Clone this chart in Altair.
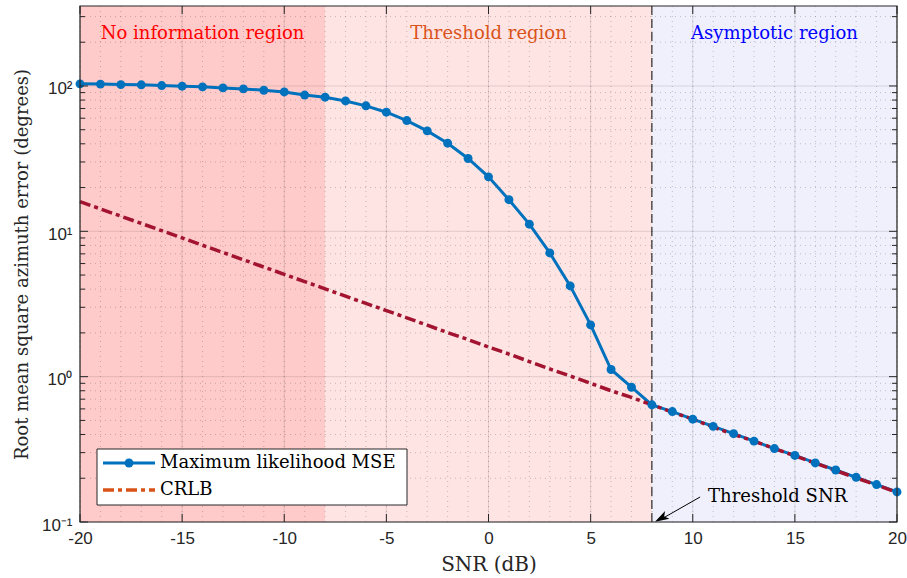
import altair as alt
import pandas as pd

# ---------------- data ----------------
snr = [-20, -19, -18, -17, -16, -15, -14, -13, -12, -11, -10, -9, -8, -7, -6, -5, -4, -3, -2, -1,
       0, 1, 2, 3, 4, 5, 6, 7, 8, 9, 10, 11, 12, 13, 14, 15, 16, 17, 18, 19, 20]
mle = [103.4, 103.0, 102.2, 101.8, 100.6, 99.7, 98.6, 97.0, 95.5, 93.5, 91.0, 86.6, 83.7, 78.9, 73.0,
       66.0, 57.8, 49.1, 40.4, 31.7, 23.7, 16.5, 11.2, 7.1, 4.21, 2.27, 1.12, 0.846, 0.64, 0.575,
       0.51, 0.455, 0.405, 0.36, 0.32, 0.287, 0.255, 0.228, 0.203, 0.181, 0.161]
crlb = [16.0, 14.26, 12.71, 11.33, 10.10, 9.0, 8.02, 7.15, 6.37, 5.68, 5.06, 4.51, 4.02, 3.58, 3.19,
        2.85, 2.54, 2.26, 2.01, 1.80, 1.60, 1.43, 1.27, 1.13, 1.01, 0.90, 0.80, 0.72, 0.64, 0.57,
        0.51, 0.45, 0.40, 0.36, 0.32, 0.285, 0.254, 0.226, 0.201, 0.180, 0.16]

x_major = [-20, -15, -10, -5, 0, 5, 10, 15, 20]
x_minor = snr
y_major = [0.1, 1, 10, 100]
y_minor = [0.2, 0.3, 0.4, 0.5, 0.6, 0.7, 0.8, 0.9, 2, 3, 4, 5, 6, 7, 8, 9,
           20, 30, 40, 50, 60, 70, 80, 90, 200, 300]

region_start = [-20, -8, 8]
region_end = [-8, 8, 20]
region_fill = ["#FFCACA", "#FFE4E4", "#F0F0FC"]
region_names = ["No information region", "Threshold region", "Asymptotic region"]
region_label_x = [-14, 0, 14]
region_label_y = [228, 228, 228]
region_label_color = ["#FF0000", "#D95319", "#0000FF"]

threshold_snr = [8]
annot_text = ["Threshold SNR"]
annot_text_x = [10.75]
annot_text_y = [0.149]
arrow_x0, arrow_y0, arrow_x1, arrow_y1 = [10.36], [0.1486], [8.4], [0.1035]
arrow_tip_x, arrow_tip_y = [8.152], [0.1005]

legend_names = ["Maximum likelihood MSE", "CRLB"]

# ---------------- layout ----------------
W, H = 817, 516
SERIF = "DejaVu Serif"
SANS = "Liberation Sans"
AX = "#262626"

xs = alt.Scale(domain=[-20, 20], nice=False, zero=False)
ys = alt.Scale(type="log", domain=[0.1, 355], nice=False)

x_axis = alt.Axis(values=x_major, labelExpr="'' + datum.value", domain=False, ticks=False, grid=False,
                  labelFont=SANS, labelFontSize=17, labelColor=AX, labelPadding=8,
                  labelFlush=False, labelOverlap=False,
                  title="SNR (dB)", titleFont=SERIF, titleFontSize=20, titleFontWeight="normal",
                  titleColor=AX, titlePadding=8)
y_axis = alt.Axis(values=y_major,
                  labelExpr="datum.value == 100 ? '10²' : datum.value == 10 ? '10¹' : datum.value == 1 ? '10⁰' : '10⁻¹'",
                  domain=False, ticks=False, grid=False,
                  labelFont=SANS, labelFontSize=17, labelColor=AX, labelPadding=8, labelOffset=3,
                  labelFlush=False, labelOverlap=False,
                  title="Root mean square azimuth error (degrees)", titleFont=SERIF, titleFontSize=18,
                  titleFontWeight="normal", titleColor=AX, titlePadding=10)


def X(f):
    return alt.X(f, scale=xs, axis=x_axis)


def Y(f):
    return alt.Y(f, scale=ys, axis=y_axis)


one = pd.DataFrame({"k": [0]})

# background regions
reg_df = pd.DataFrame({"x0": region_start, "x1": region_end, "fill": region_fill})
bg = alt.Chart(reg_df).mark_rect().encode(
    x=X("x0:Q"), x2="x1:Q",
    y=alt.value(0), y2=alt.value(H),
    color=alt.Color("fill:N", scale=None))

# grids
xminor_df = pd.DataFrame({"x": x_minor})
yminor_df = pd.DataFrame({"y": y_minor})
xmajor_df = pd.DataFrame({"x": x_major})
ymajor_df = pd.DataFrame({"y": y_major})

gx_minor = alt.Chart(xminor_df).mark_rule(color=AX, opacity=0.25, strokeDash=[1, 4], strokeWidth=1).encode(
    x=X("x:Q"), y=alt.value(0), y2=alt.value(H))
gy_minor = alt.Chart(yminor_df).mark_rule(color=AX, opacity=0.25, strokeDash=[1, 4], strokeWidth=1).encode(
    y=Y("y:Q"), x=alt.value(0), x2=alt.value(W))
gx_major = alt.Chart(xmajor_df).mark_rule(color=AX, opacity=0.13, strokeWidth=1).encode(
    x=X("x:Q"), y=alt.value(0), y2=alt.value(H))
gy_major = alt.Chart(ymajor_df).mark_rule(color=AX, opacity=0.13, strokeWidth=1).encode(
    y=Y("y:Q"), x=alt.value(0), x2=alt.value(W))

# threshold line
thr = alt.Chart(pd.DataFrame({"x": threshold_snr})).mark_rule(color="#000000", strokeDash=[9, 4], strokeWidth=1).encode(
    x=X("x:Q"), y=alt.value(0), y2=alt.value(H))

# series
df = pd.DataFrame({"snr": snr, "mle": mle, "crlb": crlb})
mle_line = alt.Chart(df).mark_line(color="#0072BD", strokeWidth=3).encode(x=X("snr:Q"), y=Y("mle:Q"))
crlb_line = alt.Chart(df).mark_line(color="#A2142F", strokeWidth=3.5, strokeDash=[11, 4, 4, 4]).encode(
    x=X("snr:Q"), y=Y("crlb:Q"))
mle_pts = alt.Chart(df).mark_point(color="#0072BD", filled=True, opacity=1, size=80, shape="circle").encode(
    x=X("snr:Q"), y=Y("mle:Q"))

# region labels
lab_df = pd.DataFrame({"x": region_label_x, "y": region_label_y, "t": region_names, "c": region_label_color})
labels = alt.Chart(lab_df).mark_text(font=SERIF, fontSize=18, align="center", baseline="middle").encode(
    x=X("x:Q"), y=Y("y:Q"), text="t:N", color=alt.Color("c:N", scale=None))

# annotation
ann_df = pd.DataFrame({"x": annot_text_x, "y": annot_text_y, "t": annot_text})
ann_txt = alt.Chart(ann_df).mark_text(font=SERIF, fontSize=18, align="left", baseline="middle", color="#000000").encode(
    x=X("x:Q"), y=Y("y:Q"), text="t:N")
arr_df = pd.DataFrame({"x0": arrow_x0, "y0": arrow_y0, "x1": arrow_x1, "y1": arrow_y1})
arrow = alt.Chart(arr_df).mark_rule(color="#000000", strokeWidth=1).encode(
    x=X("x0:Q"), y=Y("y0:Q"), x2="x1:Q", y2="y1:Q")
tip_df = pd.DataFrame({"x": arrow_tip_x, "y": arrow_tip_y})
head = alt.Chart(tip_df).mark_point(
    shape="M0,0 L-0.45,1.4 L0,1.05 L0.45,1.4 Z", filled=True, color="#000000", opacity=1,
    size=400, angle=241).encode(x=X("x:Q"), y=Y("y:Q"))

# inward ticks
tk = dict(color=AX, strokeWidth=1)
tx_bot = alt.Chart(xmajor_df).mark_rule(**tk).encode(x=X("x:Q"), y=alt.value(H - 8), y2=alt.value(H))
tx_top = alt.Chart(xmajor_df).mark_rule(**tk).encode(x=X("x:Q"), y=alt.value(0), y2=alt.value(8))
ty_l = alt.Chart(ymajor_df).mark_rule(**tk).encode(y=Y("y:Q"), x=alt.value(0), x2=alt.value(8))
ty_r = alt.Chart(ymajor_df).mark_rule(**tk).encode(y=Y("y:Q"), x=alt.value(W - 8), x2=alt.value(W))
tym_l = alt.Chart(yminor_df).mark_rule(**tk).encode(y=Y("y:Q"), x=alt.value(0), x2=alt.value(5))
tym_r = alt.Chart(yminor_df).mark_rule(**tk).encode(y=Y("y:Q"), x=alt.value(W - 5), x2=alt.value(W))

box = alt.Chart(one).mark_rect(fill=None, stroke=AX, strokeWidth=1.2).encode(
    x=alt.value(0), x2=alt.value(W), y=alt.value(0), y2=alt.value(H))

# legend (manual)
leg_box = alt.Chart(one).mark_rect(fill="#FFFFFF", stroke=AX, strokeWidth=1).encode(
    x=alt.value(17), x2=alt.value(327), y=alt.value(443), y2=alt.value(499))
leg_l1 = alt.Chart(one).mark_rule(color="#0072BD", strokeWidth=3).encode(
    x=alt.value(23), x2=alt.value(75), y=alt.value(457))
leg_p1 = alt.Chart(one).mark_point(color="#0072BD", filled=True, opacity=1, size=80, shape="circle").encode(
    x=alt.value(49), y=alt.value(457))
leg_l2 = alt.Chart(one).mark_rule(color="#D95319", strokeWidth=3.5, strokeDash=[11, 4, 4, 4]).encode(
    x=alt.value(23), x2=alt.value(75), y=alt.value(484))
leg_t1 = alt.Chart(pd.DataFrame({"t": [legend_names[0]]})).mark_text(
    font=SERIF, fontSize=18, align="left", baseline="middle", color="#000000").encode(
    x=alt.value(80), y=alt.value(457), text="t:N")
leg_t2 = alt.Chart(pd.DataFrame({"t": [legend_names[1]]})).mark_text(
    font=SERIF, fontSize=18, align="left", baseline="middle", color="#000000").encode(
    x=alt.value(80), y=alt.value(484), text="t:N")

chart = alt.layer(
    bg, gx_minor, gy_minor, gx_major, gy_major, thr,
    mle_line, crlb_line, mle_pts,
    labels, arrow, head, ann_txt,
    tx_bot, tx_top, ty_l, ty_r, tym_l, tym_r, box,
    leg_box, leg_l1, leg_p1, leg_l2, leg_t1, leg_t2
).properties(
    width=W, height=H,
    autosize=alt.AutoSizeParams(type="none"),
    padding={"left": 80, "top": 6, "right": 10, "bottom": 56},
    background="#FFFFFF"
).configure_view(stroke=None)

chart.save("out.html", embed_options={"renderer": "svg", "actions": False})
